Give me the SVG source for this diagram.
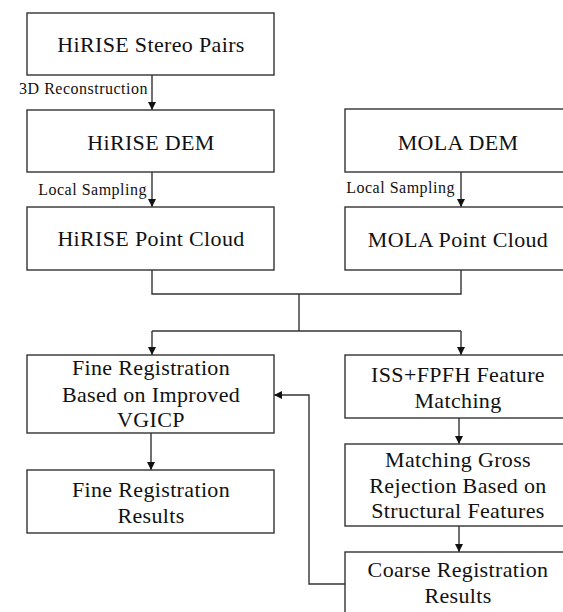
<svg xmlns="http://www.w3.org/2000/svg" width="563" height="612" viewBox="0 0 563 612">
<style>
.box{fill:#fff;stroke:#333;stroke-width:1.4}
.t{font-family:"Liberation Serif","Times New Roman",serif;font-size:22px;letter-spacing:0.35px;fill:#111;text-anchor:middle}
.lbl{font-family:"Liberation Serif","Times New Roman",serif;font-size:16px;letter-spacing:0.5px;fill:#111}
.c{fill:none;stroke:#333;stroke-width:1.4}
</style>
<defs>
<marker id="ah" viewBox="0 0 10 10" refX="10" refY="5" markerWidth="8" markerHeight="8" markerUnits="userSpaceOnUse" orient="auto">
<path d="M0,0 L10,5 L0,10 z" fill="#111"/>
</marker>
</defs>
<rect width="563" height="612" fill="#fff"/>
<g id="connectors">
<line class="c" x1="152" y1="75" x2="152" y2="110" marker-end="url(#ah)"/>
<line class="c" x1="152" y1="172" x2="152" y2="207" marker-end="url(#ah)"/>
<line class="c" x1="461" y1="172" x2="461" y2="207" marker-end="url(#ah)"/>
<polyline class="c" points="152,270 152,294 461,294 461,270"/>
<line class="c" x1="299" y1="294" x2="299" y2="331"/>
<line class="c" x1="152" y1="331" x2="461" y2="331"/>
<line class="c" x1="152" y1="331" x2="152" y2="355" marker-end="url(#ah)"/>
<line class="c" x1="461" y1="331" x2="461" y2="355" marker-end="url(#ah)"/>
<line class="c" x1="151" y1="433" x2="151" y2="470" marker-end="url(#ah)"/>
<line class="c" x1="459" y1="418" x2="459" y2="444" marker-end="url(#ah)"/>
<line class="c" x1="459" y1="526" x2="459" y2="552" marker-end="url(#ah)"/>
<polyline class="c" points="345,584 309,584 309,395 274,395" marker-end="url(#ah)"/>
<text class="lbl" x="148" y="94" text-anchor="end">3D Reconstruction</text>
<text class="lbl" x="147" y="195" text-anchor="end">Local Sampling</text>
<text class="lbl" x="455" y="193" text-anchor="end">Local Sampling</text>
</g>
<g id="hirise-stereo"><rect class="box" x="27" y="13" width="247" height="62"/><text class="t" x="151" y="52">HiRISE Stereo Pairs</text></g>
<g id="hirise-dem"><rect class="box" x="27" y="110" width="247" height="62"/><text class="t" x="151" y="150">HiRISE DEM</text></g>
<g id="hirise-pc"><rect class="box" x="27" y="207" width="247" height="63"/><text class="t" x="151" y="246">HiRISE Point Cloud</text></g>
<g id="mola-dem"><rect class="box" x="345" y="109" width="226" height="63"/><text class="t" x="458" y="150">MOLA DEM</text></g>
<g id="mola-pc"><rect class="box" x="345" y="207" width="226" height="63"/><text class="t" x="458" y="247">MOLA Point Cloud</text></g>
<g id="fine-reg"><rect class="box" x="27" y="355" width="247" height="78"/><text class="t" x="151" y="375">Fine Registration</text><text class="t" x="151" y="402">Based on Improved</text><text class="t" x="151" y="427">VGICP</text></g>
<g id="fine-results"><rect class="box" x="27" y="470" width="247" height="63"/><text class="t" x="151" y="497">Fine Registration</text><text class="t" x="151" y="523">Results</text></g>
<g id="iss-fpfh"><rect class="box" x="345" y="355" width="226" height="63"/><text class="t" x="458" y="382">ISS+FPFH Feature</text><text class="t" x="458" y="408">Matching</text></g>
<g id="gross-rejection"><rect class="box" x="345" y="444" width="226" height="82"/><text class="t" x="458" y="467">Matching Gross</text><text class="t" x="458" y="493">Rejection Based on</text><text class="t" x="458" y="518">Structural Features</text></g>
<g id="coarse-results"><rect class="box" x="345" y="552" width="226" height="64"/><text class="t" x="458" y="577">Coarse Registration</text><text class="t" x="458" y="603">Results</text></g>
</svg>
